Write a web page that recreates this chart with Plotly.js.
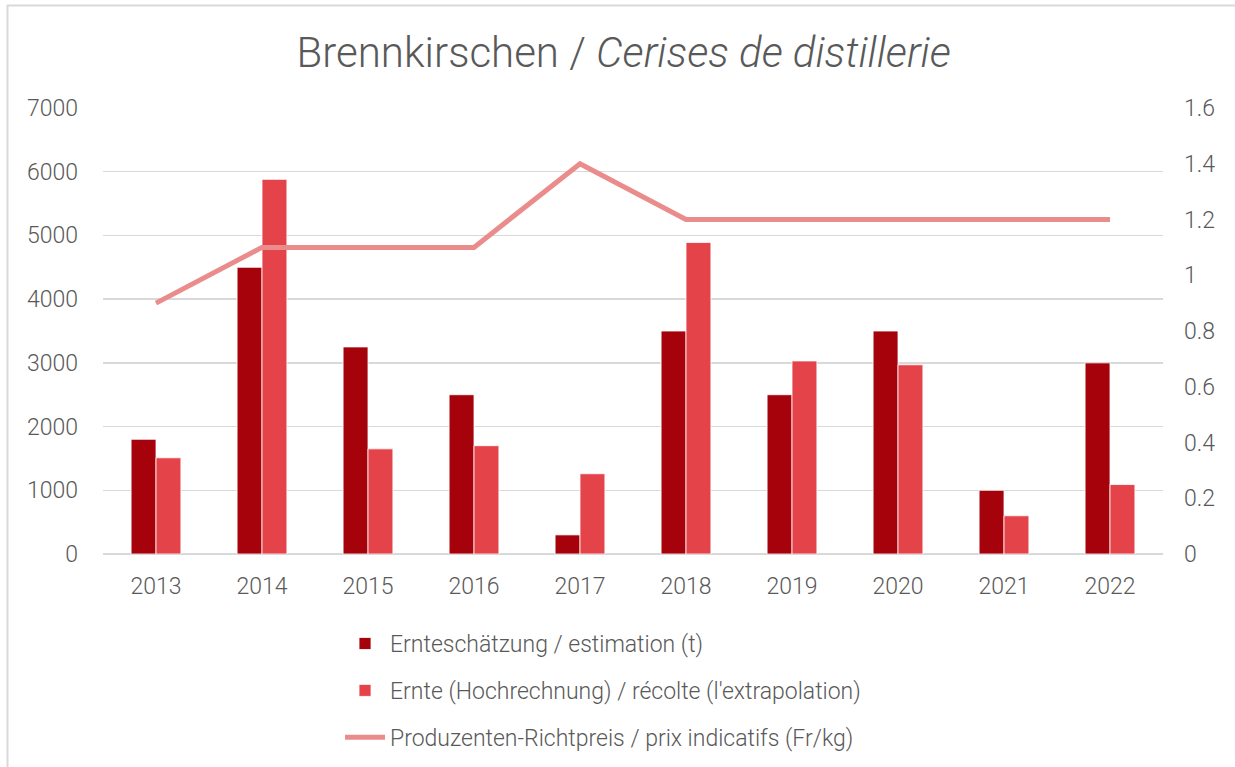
<!DOCTYPE html>
<html>
<head>
<meta charset="utf-8">
<script src="https://cdn.plot.ly/plotly-3.0.1.min.js"></script>
<style>
html,body{margin:0;padding:0;background:#fff;}
#chart{width:1235px;height:767px;}
</style>
</head>
<body>
<div id="chart"></div>
<script>
const years = ['2013','2014','2015','2016','2017','2018','2019','2020','2021','2022'];
const estimation = [1800, 4500, 3250, 2500, 300, 3500, 2500, 3500, 1000, 3000];
const harvest = [1510, 5880, 1650, 1700, 1260, 4890, 3030, 2970, 600, 1090];
const price = [0.9, 1.1, 1.1, 1.1, 1.4, 1.2, 1.2, 1.2, 1.2, 1.2];
const leftTicks = [0, 1000, 2000, 3000, 4000, 5000, 6000, 7000];
const rightTicks = [0, 0.2, 0.4, 0.6, 0.8, 1, 1.2, 1.4, 1.6];
const rightTickText = ['0', '0.2', '0.4', '0.6', '0.8', '1', '1.2', '1.4', '1.6'];

const FONT = 'Roboto, "Open Sans", sans-serif';
const GREY = '#595959';

const traces = [
  {
    type: 'bar', x: years, y: estimation, name: 'Ernteschätzung / estimation (t)',
    marker: {color: '#A6020B', line: {color: '#ffffff', width: 0.8}},
    legendgroup: 'a', hoverinfo: 'x+y'
  },
  {
    type: 'bar', x: years, y: harvest, name: 'Ernte (Hochrechnung) / récolte (l\'extrapolation)',
    marker: {color: '#E5434A', line: {color: '#ffffff', width: 0.8}},
    legendgroup: 'b', hoverinfo: 'x+y'
  },
  {
    type: 'scatter', mode: 'lines', x: years, y: price, yaxis: 'y2',
    name: 'Produzenten-Richtpreis / prix indicatifs (Fr/kg)',
    line: {color: '#EA8C8C', width: 5},
    legendgroup: 'c', hoverinfo: 'x+y'
  }
];

const layout = {
  width: 1235, height: 767,
  paper_bgcolor: '#ffffff', plot_bgcolor: '#ffffff',
  margin: {l: 103, r: 72, t: 108, b: 213},
  font: {family: FONT, color: GREY, size: 23, weight: 300},
  title: {
    text: 'Brennkirschen / <i>Cerises de distillerie</i>',
    font: {family: FONT, size: 42, color: GREY, weight: 300},
    x: 0.505, xanchor: 'center', y: 0.932, yanchor: 'middle'
  },
  barmode: 'group', bargap: 0.53, bargroupgap: 0,
  xaxis: {
    type: 'category', showgrid: false, zeroline: false, showline: false,
    ticks: '', tickfont: {size: 23, color: GREY}, ticklabelstandoff: 16,
    fixedrange: true
  },
  yaxis: {
    range: [0, 7000], tickvals: leftTicks, showgrid: true, gridcolor: '#d9d9d9', gridwidth: 1.5,
    zeroline: true, zerolinecolor: '#d9d9d9', zerolinewidth: 1.5, showline: false,
    ticks: '', tickfont: {size: 23, color: GREY}, ticklabelstandoff: 24,
    fixedrange: true
  },
  yaxis2: {
    overlaying: 'y', side: 'right', range: [0, 1.6],
    tickvals: rightTicks, ticktext: rightTickText,
    showgrid: false, zeroline: false, showline: false, ticks: '',
    tickfont: {size: 23, color: GREY}, ticklabelstandoff: 20,
    fixedrange: true
  },
  showlegend: true,
  legend: {
    orientation: 'v', xref: 'paper', x: 0.2236, xanchor: 'left',
    yref: 'container', y: 0.189, yanchor: 'top',
    font: {size: 23, color: GREY}, tracegroupgap: 14, traceorder: 'grouped',
    itemwidth: 40, bgcolor: 'rgba(0,0,0,0)'
  },
  shapes: [
    {type: 'rect', xref: 'paper', yref: 'paper', x0: -0.0901, x1: 1.2, y0: -0.6, y1: 1.2298,
     line: {color: '#d9d9d9', width: 2}, fillcolor: 'rgba(0,0,0,0)', layer: 'below'}
  ]
};

Plotly.newPlot('chart', traces, layout, {displayModeBar: false, staticPlot: true});
</script>
</body>
</html>
